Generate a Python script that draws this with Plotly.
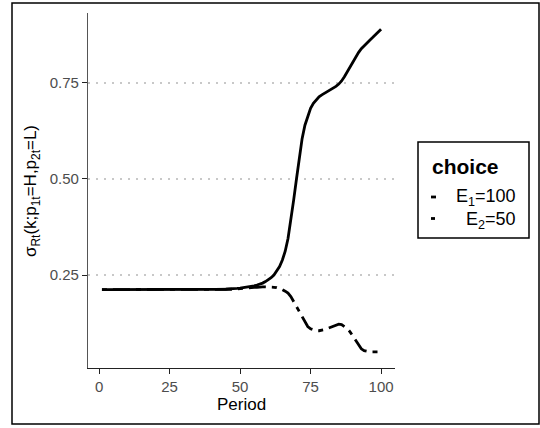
import plotly.graph_objects as go

# ---------------- data ----------------
period = list(range(1, 101))

e1_values = [
    0.212, 0.212, 0.212, 0.212, 0.212, 0.212, 0.212, 0.212, 0.212, 0.212,
    0.212, 0.212, 0.212, 0.212, 0.212, 0.212, 0.212, 0.212, 0.212, 0.212,
    0.212, 0.212, 0.212, 0.212, 0.212, 0.212, 0.212, 0.212, 0.212, 0.212,
    0.212, 0.212, 0.212, 0.212, 0.212, 0.212, 0.212, 0.212, 0.212, 0.212,
    0.212, 0.212, 0.213, 0.213, 0.213, 0.214, 0.214, 0.215, 0.215, 0.216,
    0.217, 0.218, 0.219, 0.220, 0.222, 0.224, 0.226, 0.229, 0.233, 0.237,
    0.243, 0.250, 0.260, 0.272, 0.289, 0.312, 0.345, 0.392, 0.445, 0.500,
    0.555, 0.605, 0.640, 0.665, 0.684, 0.697, 0.707, 0.714, 0.719, 0.723,
    0.727, 0.731, 0.736, 0.741, 0.747, 0.755, 0.766, 0.779, 0.793, 0.806,
    0.818, 0.829, 0.839, 0.847, 0.854, 0.861, 0.868, 0.875, 0.882, 0.890,
]

e2_values = [
    0.212, 0.212, 0.212, 0.212, 0.212, 0.212, 0.212, 0.212, 0.212, 0.212,
    0.212, 0.212, 0.212, 0.212, 0.212, 0.212, 0.212, 0.212, 0.212, 0.212,
    0.212, 0.212, 0.212, 0.212, 0.212, 0.212, 0.212, 0.212, 0.212, 0.212,
    0.212, 0.212, 0.212, 0.212, 0.212, 0.212, 0.212, 0.212, 0.212, 0.212,
    0.212, 0.212, 0.212, 0.213, 0.213, 0.213, 0.213, 0.213, 0.214, 0.214,
    0.215, 0.216, 0.217, 0.217, 0.218, 0.218, 0.219, 0.219, 0.219, 0.219,
    0.219, 0.218, 0.217, 0.215, 0.212, 0.208, 0.203, 0.194, 0.181, 0.166,
    0.152, 0.139, 0.126, 0.116, 0.110, 0.107, 0.105, 0.105, 0.106, 0.108,
    0.111, 0.114, 0.117, 0.120, 0.122, 0.121, 0.117, 0.111, 0.102, 0.091,
    0.079, 0.067, 0.058, 0.053, 0.051, 0.050, 0.050, 0.050, 0.050, 0.050,
]

series_names = ["E<sub>1</sub>=100", "E<sub>2</sub>=50"]
legend_title = "choice"
x_ticks = [0, 25, 50, 75, 100]
y_ticks = [0.25, 0.50, 0.75]
x_title = "Period"
y_title = "σ<sub>Rt</sub>(k;p<sub>1t</sub>=H,p<sub>2t</sub>=L)"

# ---------------- layout helpers ----------------
W, H = 540, 428
ML, MR, MT, MB = 88, 145, 13, 60
PW, PH = W - ML - MR, H - MT - MB


def px(xp):
    return (xp - ML) / PW


def py(yp):
    return 1 - (yp - MT) / PH


FONT = "Liberation Sans, Arial, sans-serif"

fig = go.Figure()
fig.add_trace(go.Scatter(x=period, y=e1_values, mode="lines", name=series_names[0],
                         line=dict(color="black", width=2.8, dash="solid"),
                         showlegend=False))
fig.add_trace(go.Scatter(x=period, y=e2_values, mode="lines", name=series_names[1],
                         line=dict(color="black", width=2.8, dash="5px,6px,17px,6px"),
                         showlegend=False))

fig.update_layout(
    width=W, height=H,
    margin=dict(l=ML, r=MR, t=MT, b=MB, pad=0),
    paper_bgcolor="white", plot_bgcolor="white",
    font=dict(family=FONT, color="black"),
    showlegend=False,
    xaxis=dict(range=[-3.95, 104.95], tickvals=x_ticks, ticktext=[str(v) for v in x_ticks],
               showgrid=False, zeroline=False, showline=True, linecolor="#222", linewidth=1.2,
               ticks="outside", ticklen=5, tickwidth=1.2, tickcolor="#222",
               tickfont=dict(size=15, color="#4d4d4d", family=FONT)),
    yaxis=dict(range=[0.008, 0.932], tickvals=y_ticks, ticktext=["%.2f" % v for v in y_ticks],
               showgrid=True, gridcolor="#c8c8c8", gridwidth=2, griddash="2px,6px",
               zeroline=False, showline=True, linecolor="#555", linewidth=1.2,
               ticks="outside", ticklen=5, tickwidth=1.2, tickcolor="#222",
               tickfont=dict(size=15, color="#4d4d4d", family=FONT)),
)

shapes = []
# outer border
shapes.append(dict(type="rect", xref="paper", yref="paper",
                   x0=px(12), x1=px(539), y0=py(424), y1=py(3),
                   line=dict(color="black", width=1.5), fillcolor="rgba(0,0,0,0)", layer="above"))
# legend box
shapes.append(dict(type="rect", xref="paper", yref="paper",
                   x0=px(418), x1=px(529), y0=py(238), y1=py(142),
                   line=dict(color="black", width=1.5), fillcolor="white", layer="above"))
# legend keys
shapes.append(dict(type="line", xref="paper", yref="paper",
                   x0=px(431), x1=px(436), y0=py(197), y1=py(197),
                   line=dict(color="black", width=2.8)))
shapes.append(dict(type="line", xref="paper", yref="paper",
                   x0=px(431), x1=px(435), y0=py(218.5), y1=py(218.5),
                   line=dict(color="black", width=2.8)))
fig.update_layout(shapes=shapes)

annotations = [
    dict(text="<b>%s</b>" % legend_title, x=px(430), y=py(166), xref="paper", yref="paper",
         xanchor="left", yanchor="middle", showarrow=False,
         font=dict(size=21, color="black", family=FONT)),
    dict(text="<br>".join(series_names), x=px(518), y=py(209), xref="paper", yref="paper",
         xanchor="right", yanchor="middle", align="right", showarrow=False,
         font=dict(size=18, color="black", family=FONT)),
    dict(text=x_title, x=0.5, y=py(404), xref="paper", yref="paper",
         xanchor="center", yanchor="middle", showarrow=False,
         font=dict(size=17, color="black", family=FONT)),
    dict(text=y_title, x=px(32), y=py(191), xref="paper", yref="paper",
         xanchor="center", yanchor="middle", textangle=-90, showarrow=False,
         font=dict(size=17, color="black", family=FONT)),
]
fig.update_layout(annotations=annotations)

fig.write_html("out.html")
